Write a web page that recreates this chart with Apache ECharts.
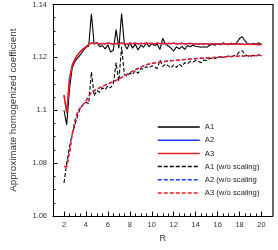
<!DOCTYPE html>
<html>
<head>
<meta charset="utf-8">
<script src="https://cdn.jsdelivr.net/npm/echarts@6/dist/echarts.min.js"></script>
<style>html,body{margin:0;padding:0;background:#fff;}#c{width:278px;height:250px;}</style>
</head>
<body>
<div id="c"></div>
<script>
var R = [2,2.25,2.5,2.75,3,3.25,3.5,3.75,4,4.25,4.5,4.75,5,5.25,5.5,5.75,6,6.25,6.5,6.75,7,7.25,7.5,7.75,8,8.25,8.5,8.75,9,9.25,9.5,9.75,10,10.25,10.5,10.75,11,11.25,11.5,11.75,12,12.25,12.5,12.75,13,13.25,13.5,13.75,14,14.25,14.5,14.75,15,15.25,15.5,15.75,16,16.25,16.5,16.75,17,17.25,17.5,17.75,18,18.25,18.5,18.75,19,19.25,19.5,19.75,20];
var A1 = [1.1000,1.0945,1.1080,1.1160,1.1185,1.1198,1.1210,1.1225,1.1238,1.1242,1.1365,1.1250,1.1256,1.1240,1.1245,1.1232,1.1248,1.1220,1.1228,1.1305,1.1235,1.1366,1.1250,1.1232,1.1255,1.1235,1.1250,1.1228,1.1246,1.1238,1.1255,1.1240,1.1252,1.1245,1.1250,1.1230,1.1272,1.1250,1.1243,1.1235,1.1224,1.1240,1.1232,1.1242,1.1230,1.1245,1.1240,1.1246,1.1242,1.1240,1.1238,1.1240,1.1238,1.1245,1.1250,1.1246,1.1252,1.1248,1.1255,1.1250,1.1248,1.1253,1.1250,1.1255,1.1272,1.1278,1.1262,1.1250,1.1248,1.1252,1.1250,1.1255,1.1248];
var A2 = [1.1057,1.0990,1.1120,1.1170,1.1195,1.1210,1.1222,1.1232,1.1240,1.1248,1.1255,1.1252,1.1254,1.1250,1.1253,1.1251,1.1254,1.1252,1.1250,1.1253,1.1251,1.1254,1.1252,1.1250,1.1253,1.1252,1.1254,1.1251,1.1253,1.1252,1.1254,1.1252,1.1253,1.1251,1.1254,1.1252,1.1253,1.1251,1.1253,1.1252,1.1254,1.1251,1.1252,1.1253,1.1251,1.1252,1.1253,1.1251,1.1252,1.1250,1.1252,1.1251,1.1252,1.1250,1.1252,1.1251,1.1250,1.1252,1.1251,1.1250,1.1251,1.1250,1.1252,1.1250,1.1251,1.1250,1.1249,1.1251,1.1250,1.1249,1.1250,1.1248,1.1249];
var A3 = [1.1057,1.0990,1.1120,1.1170,1.1195,1.1210,1.1222,1.1232,1.1240,1.1248,1.1255,1.1252,1.1254,1.1250,1.1253,1.1251,1.1254,1.1252,1.1250,1.1253,1.1251,1.1254,1.1252,1.1250,1.1253,1.1252,1.1254,1.1251,1.1253,1.1252,1.1254,1.1252,1.1253,1.1251,1.1254,1.1252,1.1253,1.1251,1.1253,1.1252,1.1254,1.1251,1.1252,1.1253,1.1251,1.1252,1.1253,1.1251,1.1252,1.1250,1.1252,1.1251,1.1252,1.1250,1.1252,1.1251,1.1250,1.1252,1.1251,1.1250,1.1251,1.1250,1.1252,1.1250,1.1251,1.1250,1.1249,1.1251,1.1250,1.1249,1.1250,1.1248,1.1249];
var A1w = [1.0725,1.0800,1.0860,1.0910,1.0945,1.0980,1.1010,1.1020,1.1030,1.1025,1.1145,1.1055,1.1075,1.1068,1.1085,1.1078,1.1092,1.1085,1.1100,1.1180,1.1110,1.1240,1.1135,1.1128,1.1140,1.1135,1.1150,1.1140,1.1158,1.1155,1.1165,1.1160,1.1168,1.1165,1.1158,1.1190,1.1165,1.1175,1.1168,1.1160,1.1172,1.1162,1.1175,1.1165,1.1180,1.1175,1.1185,1.1182,1.1188,1.1185,1.1180,1.1190,1.1188,1.1195,1.1198,1.1195,1.1200,1.1202,1.1200,1.1203,1.1205,1.1202,1.1206,1.1210,1.1222,1.1225,1.1210,1.1205,1.1203,1.1208,1.1204,1.1210,1.1208];
var A2w = [1.0787,1.0787,1.0840,1.0910,1.0960,1.0995,1.1010,1.1022,1.1035,1.1052,1.1068,1.1074,1.1080,1.1085,1.1090,1.1095,1.1100,1.1104,1.1108,1.1113,1.1118,1.1124,1.1130,1.1136,1.1142,1.1148,1.1153,1.1158,1.1163,1.1168,1.1172,1.1175,1.1177,1.1179,1.1180,1.1182,1.1183,1.1185,1.1186,1.1187,1.1188,1.1189,1.1190,1.1191,1.1192,1.1193,1.1194,1.1194,1.1195,1.1196,1.1197,1.1197,1.1198,1.1199,1.1199,1.1200,1.1201,1.1201,1.1202,1.1202,1.1203,1.1203,1.1204,1.1204,1.1205,1.1205,1.1205,1.1206,1.1206,1.1206,1.1207,1.1207,1.1207];
var A3w = [1.0787,1.0787,1.0840,1.0910,1.0960,1.0995,1.1010,1.1022,1.1035,1.1052,1.1068,1.1074,1.1080,1.1085,1.1090,1.1095,1.1100,1.1104,1.1108,1.1113,1.1118,1.1124,1.1130,1.1136,1.1142,1.1148,1.1153,1.1158,1.1163,1.1168,1.1172,1.1175,1.1177,1.1179,1.1180,1.1182,1.1183,1.1185,1.1186,1.1187,1.1188,1.1189,1.1190,1.1191,1.1192,1.1193,1.1194,1.1194,1.1195,1.1196,1.1197,1.1197,1.1198,1.1199,1.1199,1.1200,1.1201,1.1201,1.1202,1.1202,1.1203,1.1203,1.1204,1.1204,1.1205,1.1205,1.1205,1.1206,1.1206,1.1206,1.1207,1.1207,1.1207];
var seriesNames = ['A1','A2','A3','A1 (w/o scaling)','A2 (w/o scaling','A3 (w/o scaling)'];
var xMajorTicks = [2,4,6,8,10,12,14,16,18,20];
var xMinorTicks = [2.5,3,3.5,4.5,5,5.5,6.5,7,7.5,8.5,9,9.5,10.5,11,11.5,12.5,13,13.5,14.5,15,15.5,16.5,17,17.5,18.5,19,19.5];

function pairs(ys){ return R.map(function(r,i){ return [r, ys[i]]; }); }
var FONT = '"Liberation Sans", Arial, sans-serif';
var colors = ['#000000','#1a3cff','#ee2020','#000000','#1a3cff','#ee2020'];
var datas = [A1,A2,A3,A1w,A2w,A3w];
var series = datas.map(function(d,i){
  return {
    name: seriesNames[i], type: 'line', xAxisIndex: 0, yAxisIndex: 0, data: pairs(d),
    symbol: 'none', showSymbol: false, smooth: false, animation: false,
    lineStyle: { color: colors[i], width: (i===2||i===5)?1.5:1.1, type: i>=3 ? [4,2] : 'solid' },
    itemStyle: { color: colors[i] }
  };
});

var chart = echarts.init(document.getElementById('c'), null, {renderer:'canvas'});
chart.setOption({
  animation: false,
  grid: { left: 44.5, right: 5.5, top: 4.5, bottom: 34 },
  legend: {
    show: true, orient: 'vertical', left: 152, top: 118, itemWidth: 42, itemHeight: 6, itemGap: 5.2,
    itemStyle: { opacity: 0 },
    lineStyle: { width: 1.5 },
    textStyle: { fontFamily: FONT, fontSize: 7.7, color: '#222' },
    data: seriesNames
  },
  xAxis: [{
    type: 'value', min: 1, max: 21,
    name: 'R', nameLocation: 'middle', nameGap: 16,
    nameTextStyle: { fontFamily: FONT, fontSize: 9, color: '#333' },
    axisLine: { show: true, lineStyle: { color: '#000' } },
    axisTick: { show: true, inside: true, length: 4.5, customValues: xMajorTicks, lineStyle: { color: '#000' } },
    axisLabel: { show: true, customValues: xMajorTicks, fontFamily: FONT, fontSize: 7.5, color: '#333', margin: 5 },
    splitLine: { show: false }
  },{
    type: 'value', min: 1, max: 21, position: 'bottom',
    axisLine: { show: false },
    axisTick: { show: true, inside: true, length: 2.5, customValues: xMinorTicks, lineStyle: { color: '#000' } },
    axisLabel: { show: false },
    splitLine: { show: false }
  },{
    type: 'value', min: 1, max: 21, position: 'top',
    axisLine: { show: true, lineStyle: { color: '#000' } },
    axisTick: { show: false }, axisLabel: { show: false }, splitLine: { show: false }
  }],
  yAxis: [{
    type: 'value', min: 1.06, max: 1.14, interval: 0.02,
    name: 'Approximate homogenized coefficient', nameLocation: 'middle', nameGap: 35,
    nameTextStyle: { fontFamily: FONT, fontSize: 9.8, color: '#333' },
    axisLine: { show: true, lineStyle: { color: '#000' } },
    axisTick: { show: true, inside: true, length: 4.5, lineStyle: { color: '#000' } },
    minorTick: { show: true, splitNumber: 4, length: 2.5, lineStyle: { color: '#000' } },
    axisLabel: { fontFamily: FONT, fontSize: 7.5, color: '#333', margin: 6 },
    splitLine: { show: false }
  },{
    type: 'value', min: 1.06, max: 1.14, position: 'right',
    axisLine: { show: true, lineStyle: { color: '#333', width: 1.5 } },
    axisTick: { show: false }, axisLabel: { show: false }, splitLine: { show: false }
  }],
  series: series
});
</script>
</body>
</html>
